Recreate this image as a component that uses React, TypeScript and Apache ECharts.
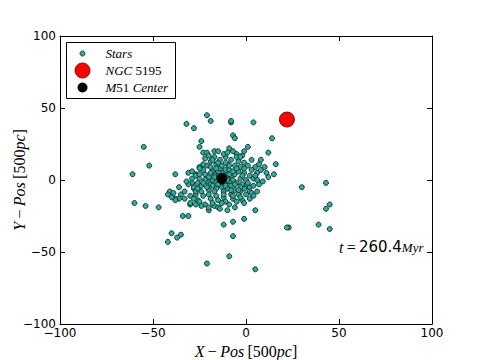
import React, { useEffect, useRef } from "react";
import * as echarts from "echarts";

const axisTicks = [-100, -50, 0, 50, 100];
const ngc5195: [number, number][] = [[22, 42]];
const m51Center: [number, number][] = [[-13, 1]];
const timeLabel = "260.4";

const outerStars: [number, number][] = [
  [-55, 23], [-52, 10], [-61, 4], [-38, 4], [-60, -16], [-54, -18], [-47, -19],
  [-42, -43], [-40, -37], [-37, -40], [-35, -38], [-21, 45], [-19, 41], [-32, 39],
  [-28, 36], [-8, 40], [-8, 41], [4, 40], [14, 29], [-7, 31], [-6, 29], [1, 23],
  [-24, 27], [-25, 23], [-23, 19], [-21, 19], [-17, 20], [-9, 22], [12, 19], [16, 11],
  [8, 14], [3, 14], [-5, 18], [-36, -5], [-30, -17], [-34, -25], [-31, -25], [5, -21],
  [-1, -27], [-12, -31], [-7, -29], [-7, -39], [-9, -53], [-21, -58], [5, -62],
  [23, -33], [22, -33], [11, 5], [12, 2], [15, 4], [5, 9], [6, 5], [0, -5], [2, -5],
  [4, -4], [30, -5], [43, -2], [-3, -8], [-2, -14], [43, -20], [45, -17], [39, -31],
  [45, -34], [-31, 5], [-29, 6], [-27, 4], [-25, 9], [-41, -8], [-39, -9], [-42, -10],
  [-35, -10], [-36, -13], [-33, -13], [-38, -13], [-40, -12], [-38, -14], [-29, -2],
  [-28, -6], [-30, -16], [-27, -10], [-26, -14], [-22, -17], [-20, -21], [-17, -18],
  [-15, -19], [2, -8],
];

const coreStars: [number, number][] = [
  [-13, 1], [-15, 3], [-11, -2], [-16, -1], [-10, 2], [-14, -3], [-12, 5], [-17, 4],
  [-9, -1], [-13, -5], [-18, 0], [-8, 3], [-15, 6], [-11, 7], [-19, -3], [-7, 0],
  [-16, -6], [-10, -6], [-14, 8], [-20, 2], [-6, 4], [-12, -8], [-18, 6], [-8, -4],
  [-21, -1], [-5, -2], [-17, -8], [-9, 7], [-13, 10], [-22, 4],
  [-4, 6], [-3, 1], [-6, -7], [-2, -3], [-24, -4], [-23, 7], [-25, 1], [-20, -7],
  [-21, 10], [-16, 11], [-10, 11], [-6, 10], [-3, 9], [-1, 5], [0, 0], [-1, -6],
  [-4, -10], [-8, -10], [-12, -12], [-16, -11], [-20, -10], [-24, -8], [-26, -2],
  [-27, 3], [-25, 8], [-19, 13], [-14, 14], [-8, 14], [-4, 13], [1, 10], [2, 3],
  [1, -2], [-3, -12], [-7, -13], [-11, -15], [-15, -14], [-19, -13], [-23, -11],
  [-28, -5], [-29, 1], [-22, 15], [-17, 16], [-11, 16], [-5, 16], [-1, 12], [3, 7],
  [4, 1], [3, -9], [0, -10], [-5, -15], [-9, -17], [-13, -16], [-27, -8],
  [-31, -3], [-33, -8], [-30, -11], [-28, -13], [-25, -15], [-32, -1], [-27, -17],
  [-24, -18], [-23, 11], [-20, 17], [-15, 20], [-12, 18], [-7, 20], [-2, 17],
  [-10, 19], [-18, 14], [6, 0], [7, -3], [5, 3], [8, 7], [7, 11], [9, -1], [10, 9],
  [-1, 20], [-3, 16], [4, -11], [6, -8], [2, -13], [-18, -16], [-14, -20],
  [-10, -21], [-6, -19], [-1, -16], [-20, -19],
  [-12, 3], [-14, 0], [-11, -4], [-15, -3], [-9, 4], [-17, 2], [-13, -1], [-10, 0],
  [-16, 8], [-7, 6], [-6, -3], [-19, 5], [-21, -5], [-5, 8], [-8, -7], [-12, -10],
  [-3, -5], [-22, 0], [-18, -4], [-9, 10], [-15, 12], [-11, 12], [-2, 3], [-25, 4],
  [-26, -6], [-1, 8], [-4, -7], [-7, -11], [-19, 9], [-23, -2],
];

const TEAL = "#30aa9c";
const SERIF = "'Liberation Serif', 'DejaVu Serif', serif";
const SANS = "'DejaVu Sans', sans-serif";

const minus = (v: number) => String(v).replace("-", "\u2212");

export default function App() {
  const ref = useRef<HTMLDivElement>(null);
  useEffect(() => {
    document.body.style.margin = "0";
    if (!ref.current) return;
    const chart = echarts.init(ref.current, null, { renderer: "svg" });
    const baseAxis = {
      type: "value" as const,
      min: axisTicks[0],
      max: axisTicks[axisTicks.length - 1],
      interval: 50,
      splitLine: { show: false },
      axisLine: { show: true, onZero: false, lineStyle: { color: "#000", width: 1 } },
      axisTick: { show: true, inside: true, length: 5, lineStyle: { color: "#000" } },
    };
    const nameRich = {
      i: { fontFamily: SERIF, fontStyle: "italic", fontSize: 16, color: "#000" },
      n: { fontFamily: SERIF, fontSize: 16, color: "#000" },
    };
    chart.setOption({
      animation: false,
      backgroundColor: "#fff",
      grid: { left: 60, right: 48, top: 36, bottom: 36, containLabel: false, outerBoundsMode: "none" },
      xAxis: [
        {
          ...baseAxis,
          position: "bottom",
          axisLabel: { color: "#000", fontFamily: SANS, fontSize: 12, margin: 3, formatter: minus },
          name: "{i|X} {n|\u2212} {i|Pos} {n|[500}{i|pc}{n|]}",
          nameLocation: "middle",
          nameGap: 19,
          nameMoveOverlap: false,
          nameTextStyle: { rich: nameRich },
        },
        { ...baseAxis, position: "top", axisLabel: { show: false } },
      ],
      yAxis: [
        {
          ...baseAxis,
          position: "left",
          axisLabel: { color: "#000", fontFamily: SANS, fontSize: 12, margin: 4, formatter: minus },
          name: "{i|Y} {n|\u2212} {i|Pos} {n|[500}{i|pc}{n|]}",
          nameLocation: "middle",
          nameRotate: 90,
          nameGap: 33,
          nameMoveOverlap: false,
          nameTextStyle: { rich: nameRich },
        },
        { ...baseAxis, position: "right", axisLabel: { show: false } },
      ],
      series: [
        {
          name: "Stars",
          type: "scatter",
          xAxisIndex: 0,
          yAxisIndex: 0,
          data: [...outerStars, ...coreStars],
          symbolSize: 5,
          itemStyle: { color: TEAL, borderColor: "#0b2a26", borderWidth: 0.9, opacity: 1 },
          z: 2,
        },
        {
          name: "NGC 5195",
          type: "scatter",
          data: ngc5195,
          symbolSize: 15,
          itemStyle: { color: "#ff0000", borderColor: "#400", borderWidth: 0.8, opacity: 1 },
          z: 3,
        },
        {
          name: "M51 Center",
          type: "scatter",
          data: m51Center,
          symbolSize: 10,
          itemStyle: { color: "#000", borderColor: "#000", opacity: 1 },
          z: 4,
        },
      ],
      graphic: [
        {
          type: "group",
          left: 66,
          top: 42,
          children: [
            { type: "rect", shape: { x: 0, y: 0, width: 109, height: 56 }, style: { fill: "#fff", stroke: "#000", lineWidth: 1 } },
            { type: "circle", shape: { cx: 16, cy: 11, r: 2.5 }, style: { fill: TEAL, stroke: "#0b2a26", lineWidth: 0.9 } },
            { type: "circle", shape: { cx: 16, cy: 28, r: 7.5 }, style: { fill: "#ff0000", stroke: "#400", lineWidth: 0.8 } },
            { type: "circle", shape: { cx: 16, cy: 45, r: 5 }, style: { fill: "#000" } },
            {
              type: "text", x: 39, y: 11,
              style: { text: "Stars", fill: "#000", font: `italic 13px ${SERIF}`, verticalAlign: "middle" },
            },
            {
              type: "text", x: 39, y: 28,
              style: {
                text: "{i|NGC} {n|5195}", verticalAlign: "middle",
                rich: {
                  i: { fontFamily: SERIF, fontStyle: "italic", fontSize: 13, fill: "#000" },
                  n: { fontFamily: SERIF, fontSize: 13, fill: "#000" },
                },
              },
            },
            {
              type: "text", x: 39, y: 45,
              style: {
                text: "{i|M}{n|51} {i|Center}", verticalAlign: "middle",
                rich: {
                  i: { fontFamily: SERIF, fontStyle: "italic", fontSize: 13, fill: "#000" },
                  n: { fontFamily: SERIF, fontSize: 13, fill: "#000" },
                },
              },
            },
          ],
        },
        {
          type: "text",
          left: 339,
          top: 239,
          style: {
            text: `{i|t}{n|\u2009=\u2009}{s|${timeLabel}}{i2|Myr}`,
            rich: {
              i: { fontFamily: SERIF, fontStyle: "italic", fontSize: 16, fill: "#000" },
              n: { fontFamily: SERIF, fontSize: 16, fill: "#000" },
              s: { fontFamily: SANS, fontSize: 15, fill: "#000" },
              i2: { fontFamily: SERIF, fontStyle: "italic", fontSize: 13, fill: "#000" },
            },
          },
        },
      ],
    });
    return () => chart.dispose();
  }, []);
  return <div ref={ref} style={{ width: 480, height: 360 }} />;
}
